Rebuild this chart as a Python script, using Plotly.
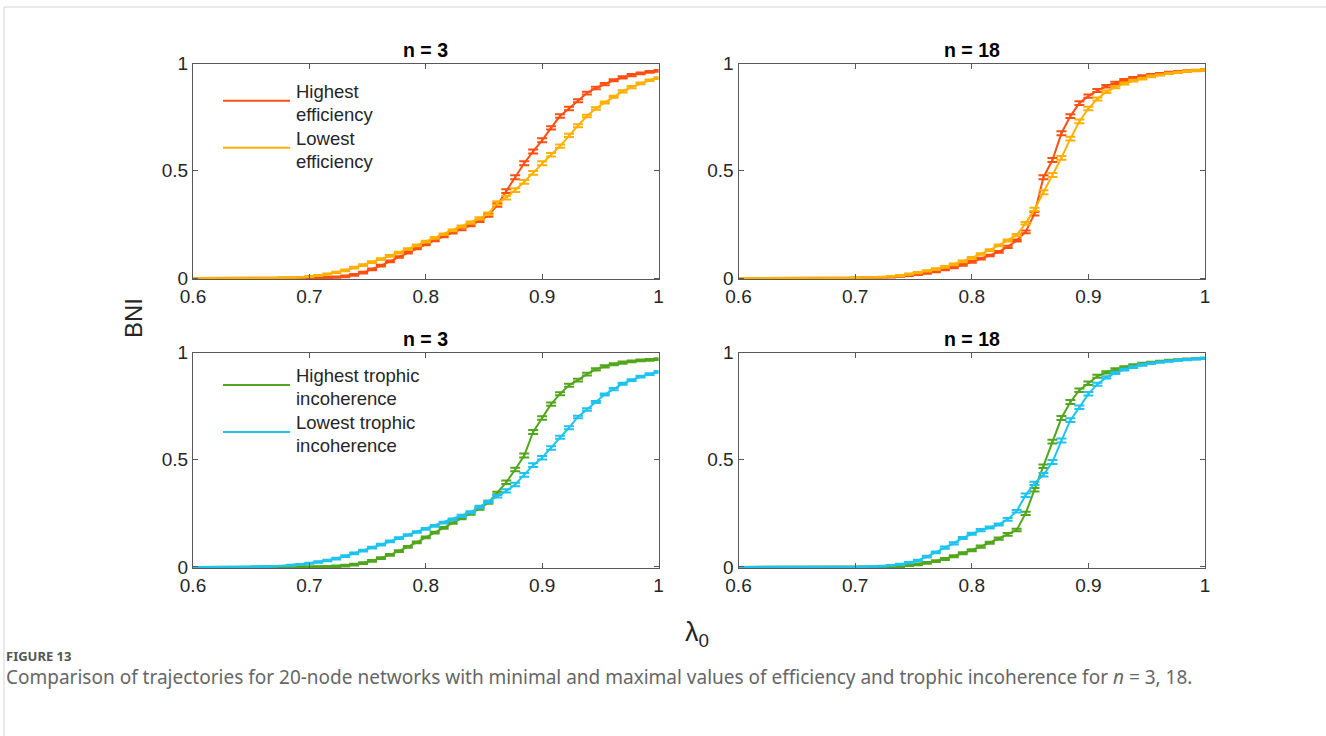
import plotly.graph_objects as go

# ---------------- data ----------------
LAMBDA = [0.6, 0.6077, 0.6154, 0.6231, 0.6308, 0.6385, 0.6462, 0.6538, 0.6615, 0.6692,
          0.6769, 0.6846, 0.6923, 0.7, 0.7077, 0.7154, 0.7231, 0.7308, 0.7385, 0.7462,
          0.7538, 0.7615, 0.7692, 0.7769, 0.7846, 0.7923, 0.8, 0.8077, 0.8154, 0.8231,
          0.8308, 0.8385, 0.8462, 0.8538, 0.8615, 0.8692, 0.8769, 0.8846, 0.8923, 0.9,
          0.9077, 0.9154, 0.9231, 0.9308, 0.9385, 0.9462, 0.9538, 0.9615, 0.9692, 0.9769,
          0.9846, 0.9923, 1.0]

# n = 3, efficiency
N3_EFF_HIGH = [0, 0, 0, 0, 0, 0, 0, 0, 0, 0, 0, 0, 0,
               0.0, 0.001, 0.002, 0.004, 0.008, 0.015, 0.025, 0.04, 0.058, 0.078,
               0.098, 0.118, 0.138, 0.157, 0.176, 0.194, 0.211, 0.228, 0.246, 0.266,
               0.292, 0.34, 0.405, 0.47, 0.535, 0.59, 0.642, 0.70, 0.755, 0.79,
               0.826, 0.862, 0.886, 0.904, 0.922, 0.935, 0.946, 0.954, 0.961, 0.966]
N3_EFF_LOW = [0, 0, 0, 0, 0, 0, 0, 0, 0, 0,
              0.001, 0.002, 0.004, 0.007, 0.012, 0.018, 0.026, 0.036, 0.048, 0.06,
              0.074, 0.088, 0.103, 0.118, 0.135, 0.152, 0.17, 0.187, 0.204, 0.222,
              0.24, 0.258, 0.278, 0.30, 0.35, 0.375, 0.41, 0.448, 0.49, 0.535,
              0.575, 0.615, 0.665, 0.71, 0.755, 0.79, 0.818, 0.845, 0.87, 0.89,
              0.907, 0.922, 0.932]
N3_EFF_ERR = [0, 0, 0, 0, 0, 0, 0, 0, 0, 0,
              0.001, 0.001, 0.001, 0.002, 0.002, 0.003, 0.003, 0.004, 0.004, 0.004,
              0.004, 0.004, 0.004, 0.004, 0.004, 0.004, 0.004, 0.004, 0.004, 0.004,
              0.005, 0.005, 0.005, 0.006, 0.008, 0.009, 0.009, 0.009, 0.009, 0.009,
              0.008, 0.008, 0.008, 0.007, 0.006, 0.006, 0.005, 0.005, 0.005, 0.005,
              0.004, 0.004, 0.004]

# n = 18, efficiency
N18_EFF_HIGH = [0, 0, 0, 0, 0, 0, 0, 0, 0, 0, 0, 0, 0, 0,
                0.001, 0.002, 0.003, 0.005, 0.008, 0.012, 0.017, 0.023, 0.031, 0.04,
                0.05, 0.061, 0.075, 0.09, 0.105, 0.122, 0.145, 0.175, 0.215, 0.30,
                0.47, 0.55, 0.675, 0.755, 0.815, 0.848, 0.874, 0.894, 0.91, 0.923,
                0.933, 0.941, 0.947, 0.953, 0.958, 0.962, 0.965, 0.968, 0.97]
N18_EFF_LOW = [0, 0, 0, 0, 0, 0, 0, 0, 0, 0, 0, 0, 0,
               0.001, 0.002, 0.003, 0.005, 0.008, 0.012, 0.018, 0.025, 0.033, 0.042,
               0.052, 0.064, 0.078, 0.094, 0.112, 0.13, 0.152, 0.175, 0.2, 0.255,
               0.32, 0.40, 0.48, 0.56, 0.65, 0.73, 0.79, 0.835, 0.868, 0.89,
               0.907, 0.92, 0.93, 0.94, 0.947, 0.954, 0.959, 0.964, 0.967, 0.97]
N18_EFF_ERR = [0, 0, 0, 0, 0, 0, 0, 0, 0, 0, 0, 0, 0,
               0.001, 0.001, 0.001, 0.001, 0.002, 0.002, 0.003, 0.003, 0.003, 0.004,
               0.004, 0.004, 0.004, 0.004, 0.004, 0.004, 0.004, 0.005, 0.005, 0.006,
               0.008, 0.009, 0.009, 0.009, 0.009, 0.009, 0.008, 0.007, 0.006, 0.005,
               0.005, 0.004, 0.004, 0.004, 0.003, 0.003, 0.003, 0.003, 0.003, 0.003]

# n = 3, trophic incoherence
N3_TI_HIGH = [0, 0, 0, 0, 0, 0, 0, 0, 0, 0, 0, 0, 0, 0, 0,
              0.001, 0.003, 0.006, 0.011, 0.018, 0.028, 0.041, 0.056, 0.074, 0.094,
              0.115, 0.138, 0.16, 0.182, 0.205, 0.227, 0.248, 0.272, 0.30, 0.345,
              0.395, 0.455, 0.52, 0.63, 0.695, 0.76, 0.808, 0.848, 0.872, 0.9,
              0.922, 0.936, 0.946, 0.954, 0.96, 0.964, 0.967, 0.97]
N3_TI_LOW = [0, 0, 0, 0, 0, 0, 0,
             0.001, 0.002, 0.003, 0.005, 0.008, 0.012, 0.017, 0.023, 0.03, 0.039,
             0.05, 0.063, 0.076, 0.09, 0.104, 0.119, 0.134, 0.149, 0.163, 0.178,
             0.192, 0.207, 0.222, 0.238, 0.255, 0.28, 0.305, 0.33, 0.355, 0.385,
             0.43, 0.475, 0.51, 0.555, 0.605, 0.65, 0.70, 0.735, 0.77, 0.805,
             0.83, 0.855, 0.872, 0.888, 0.9, 0.91]
N3_TI_ERR = [0, 0, 0, 0, 0, 0, 0, 0.001, 0.001, 0.001,
             0.001, 0.002, 0.002, 0.002, 0.003, 0.003, 0.004, 0.004, 0.004, 0.004,
             0.004, 0.004, 0.004, 0.004, 0.004, 0.004, 0.004, 0.004, 0.004, 0.004,
             0.005, 0.005, 0.005, 0.005, 0.006, 0.008, 0.008, 0.009, 0.009, 0.008,
             0.008, 0.007, 0.007, 0.006, 0.006, 0.005, 0.005, 0.005, 0.005, 0.004,
             0.004, 0.004, 0.004]

# n = 18, trophic incoherence
N18_TI_HIGH = [0, 0, 0, 0, 0, 0, 0, 0, 0, 0, 0, 0, 0, 0, 0, 0, 0,
               0.001, 0.003, 0.007, 0.012, 0.019, 0.027, 0.037, 0.05, 0.064, 0.078,
               0.095, 0.113, 0.132, 0.152, 0.172, 0.25, 0.36, 0.47, 0.585, 0.695,
               0.77, 0.825, 0.857, 0.89, 0.908, 0.922, 0.933, 0.942, 0.949, 0.955,
               0.96, 0.964, 0.967, 0.97, 0.972, 0.974]
N18_TI_LOW = [0, 0, 0, 0, 0, 0, 0, 0, 0, 0, 0, 0, 0, 0,
              0.001, 0.002, 0.004, 0.007, 0.012, 0.02, 0.03, 0.048, 0.068, 0.09,
              0.11, 0.135, 0.155, 0.172, 0.184, 0.198, 0.222, 0.26, 0.335, 0.39,
              0.43, 0.49, 0.59, 0.685, 0.745, 0.808, 0.853, 0.885, 0.905, 0.921,
              0.933, 0.943, 0.95, 0.956, 0.961, 0.965, 0.968, 0.971, 0.974]
N18_TI_ERR = [0, 0, 0, 0, 0, 0, 0, 0, 0, 0, 0, 0, 0, 0,
              0.001, 0.001, 0.002, 0.002, 0.003, 0.003, 0.004, 0.004, 0.004, 0.005,
              0.005, 0.005, 0.005, 0.005, 0.005, 0.005, 0.006, 0.006, 0.008, 0.008,
              0.008, 0.009, 0.009, 0.009, 0.008, 0.008, 0.007, 0.005, 0.005, 0.004,
              0.004, 0.004, 0.003, 0.003, 0.003, 0.003, 0.003, 0.003, 0.003]

PANEL_TITLES = ["n = 3", "n = 18", "n = 3", "n = 18"]
X_TICKS = [0.6, 0.7, 0.8, 0.9, 1.0]
X_TICK_TEXT = ["0.6", "0.7", "0.8", "0.9", "1"]
Y_TICKS = [0, 0.5, 1]
Y_TICK_TEXT = ["0", "0.5", "1"]
LEGEND_EFF = [["Highest", "efficiency"], ["Lowest", "efficiency"]]
LEGEND_TI = [["Highest trophic", "incoherence"], ["Lowest trophic", "incoherence"]]

# ---------------- style ----------------
W, H = 1326, 736
C_RED = "#ff4f12"
C_YEL = "#ffb000"
C_GRN = "#52a61c"
C_CYN = "#1ec3ef"
AX_COL = "#595959"
TXT = "#262626"
FONT = "Liberation Sans, Arial, sans-serif"


def fx(p):
    return p / W


def fy(p):
    return 1 - p / H


XL = [fx(193), fx(658.5)]
XR = [fx(738.5), fx(1205)]
YT = [fy(279.1), fy(63.5)]
YB = [fy(568.0), fy(352.7)]

panels = [
    ("x", "y", XL, YT, N3_EFF_HIGH, N3_EFF_LOW, N3_EFF_ERR, C_RED, C_YEL),
    ("x2", "y2", XR, YT, N18_EFF_HIGH, N18_EFF_LOW, N18_EFF_ERR, C_RED, C_YEL),
    ("x3", "y3", XL, YB, N3_TI_HIGH, N3_TI_LOW, N3_TI_ERR, C_GRN, C_CYN),
    ("x4", "y4", XR, YB, N18_TI_HIGH, N18_TI_LOW, N18_TI_ERR, C_GRN, C_CYN),
]

fig = go.Figure()
layout = dict(
    template="none",
    width=W, height=H,
    margin=dict(l=0, r=0, t=0, b=0, pad=0, autoexpand=False),
    paper_bgcolor="white", plot_bgcolor="white",
    showlegend=False,
    font=dict(family=FONT, color=TXT),
)

annotations = []
shapes = []

for k, (xa, ya, xd, yd, hi, lo, err, chi, clo) in enumerate(panels):
    for ys, col in ((hi, chi), (lo, clo)):
        fig.add_trace(go.Scatter(
            x=LAMBDA, y=ys, mode="lines",
            line=dict(color=col, width=2),
            error_y=dict(type="data", array=err, visible=True, color=col,
                         thickness=2, width=5),
            xaxis=xa, yaxis=ya, hoverinfo="skip",
        ))
    xkey = "xaxis" if xa == "x" else "xaxis" + xa[1:]
    ykey = "yaxis" if ya == "y" else "yaxis" + ya[1:]
    common = dict(showgrid=False, zeroline=False, showline=True, linecolor=AX_COL,
                  linewidth=1, mirror="ticks", ticks="inside", ticklen=5,
                  tickcolor=AX_COL, tickwidth=1, automargin=False,
                  tickfont=dict(family=FONT, size=19, color=TXT))
    layout[xkey] = dict(domain=xd, anchor=ya, range=[0.6, 1.0],
                        tickvals=X_TICKS, ticktext=X_TICK_TEXT, **common)
    layout[ykey] = dict(domain=yd, anchor=xa, range=[-0.005, 1.0],
                        tickvals=Y_TICKS, ticktext=Y_TICK_TEXT, **common)
    annotations.append(dict(
        text="<b>%s</b>" % PANEL_TITLES[k], xref="paper", yref="paper",
        x=(xd[0] + xd[1]) / 2, y=yd[1] + 13.5 / H, xanchor="center", yanchor="middle",
        showarrow=False, font=dict(family=FONT, size=19.5, color="black")))

# in-panel legends (MATLAB style)
for leg, (c1, c2), top in ((LEGEND_EFF, (C_RED, C_YEL), 50), (LEGEND_TI, (C_GRN, C_CYN), 334.3)):
    for j, (labels, col) in enumerate(zip(leg, (c1, c2))):
        yline = top + 50.7 + j * 47
        shapes.append(dict(type="line", xref="paper", yref="paper",
                           x0=fx(223), x1=fx(290), y0=fy(yline), y1=fy(yline),
                           line=dict(color=col, width=2)))
        for m, lab in enumerate(labels):
            annotations.append(dict(
                text=lab, xref="paper", yref="paper", x=fx(294),
                y=fy(yline - 9.5 + m * 23), xanchor="left", yanchor="middle",
                showarrow=False, font=dict(family=FONT, size=18.5, color=TXT)))

# axis titles
annotations.append(dict(text="BNI", xref="paper", yref="paper", x=fx(133), y=fy(318),
                        textangle=-90, xanchor="center", yanchor="middle", showarrow=False,
                        font=dict(family=FONT, size=24, color=TXT)))
annotations.append(dict(text="λ<sub>0</sub>", xref="paper", yref="paper", x=fx(697), y=fy(634),
                        xanchor="center", yanchor="middle", showarrow=False,
                        font=dict(family=FONT, size=27, color=TXT)))

# caption
annotations.append(dict(text="<b>FIGURE 13</b>", xref="paper", yref="paper", x=fx(4), y=fy(656),
                        xanchor="left", yanchor="middle", showarrow=False,
                        font=dict(family="Noto Sans, sans-serif", size=13, color="#555555")))
annotations.append(dict(
    text="Comparison of trajectories for 20-node networks with minimal and maximal values of "
         "efficiency and trophic incoherence for <i>n</i> = 3, 18.",
    xref="paper", yref="paper", x=fx(4), y=fy(677), xanchor="left", yanchor="middle",
    showarrow=False, font=dict(family="Noto Sans, sans-serif", size=19, color="#666666")))

# page frame
shapes.append(dict(type="line", xref="paper", yref="paper", x0=fx(4), x1=1.0, y0=fy(7), y1=fy(7),
                   line=dict(color="#d4d4d4", width=1)))
shapes.append(dict(type="line", xref="paper", yref="paper", x0=fx(4), x1=fx(4), y0=fy(7), y1=0,
                   line=dict(color="#d4d4d4", width=1)))

layout["annotations"] = annotations
layout["shapes"] = shapes
fig.update_layout(**layout)
fig.write_html("out.html", config={"displayModeBar": False},
               post_script="document.body.style.margin='0px';document.body.style.padding='0px';")
